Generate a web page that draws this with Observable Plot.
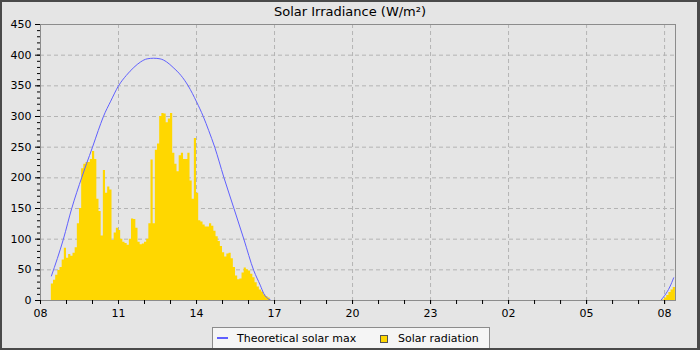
<!DOCTYPE html>
<html>
<head>
<meta charset="utf-8">
<script src="https://cdn.jsdelivr.net/npm/d3@7"></script>
<script src="https://cdn.jsdelivr.net/npm/@observablehq/plot@0.6"></script>
<style>
  body { margin: 0; background: #ffffff; }
  #wrap { position: relative; width: 700px; height: 350px; background: #e5e5e5; font-family: "DejaVu Sans", sans-serif; overflow: hidden; }
  #title { position: absolute; left: 0; top: 0; width: 700px; padding-top: 5px; height: 15px; line-height: 13px; font-size: 13px; text-align: center; color: #000; white-space: nowrap; }
  #chart { position: absolute; left: 0; top: 20px; }
  #legend { position: absolute; left: 212px; top: 327px; width: 276px; height: 20px; border: 1px solid #8c8c8c; background: #f5f5f5; font-size: 11px; color: #000; }
  #legend .lt { position: absolute; top: 5px; line-height: 11px; white-space: nowrap; }
  #legend .swl { position: absolute; left: 4px; top: 9px; width: 11px; height: 2px; background: #6060ff; }
  #legend .swb { position: absolute; left: 167px; top: 7px; width: 6px; height: 6px; border: 1px solid #555; background: #ffd700; }
  #border { position: absolute; left: 0; top: 0; right: 0; bottom: 0; border: 2px solid #4a4a4a; border-right-width: 3px; pointer-events: none; }
</style>
</head>
<body>
<div id="wrap">
  <div id="title"></div>
  <div id="chart"></div>
  <div id="legend"></div>
  <div id="border"></div>
</div>
<script>
// ---- data ----
const chartTitle = "Solar Irradiance (W/m²)";
const seriesNames = ["Theoretical solar max", "Solar radiation"];

// x axis in hours since midnight of day 1 (values > 24 are the next day)
const xDomain = [8, 32.42];
const xMajorTicks = [8, 11, 14, 17, 20, 23, 26, 29, 32];
const xTickLabels = ["08", "11", "14", "17", "20", "23", "02", "05", "08"];
const yMajorTicks = [0, 50, 100, 150, 200, 250, 300, 350, 400, 450];

// Solar radiation: 5-minute bars starting at 08:25 (day 1)
const radStartHour = 8 + 25 / 60;
const radStepHours = 5 / 60;
const radValues = [
  27, 33, 41, 49, 54, 66, 85, 69, 75, 72,
  77, 86, 125, 150, 215, 222, 225, 225, 230, 243,
  230, 165, 145, 105, 212, 175, 185, 180, 98, 110,
  118, 114, 100, 95, 93, 90, 100, 133, 132, 118,
  95, 91, 92, 95, 100, 125, 229, 125, 245, 255,
  300, 305, 304, 290, 296, 305, 240, 222, 210, 236,
  240, 230, 230, 240, 195, 165, 264, 175, 130, 128,
  123, 120, 120, 125, 121, 113, 104, 96, 88, 78,
  71, 76, 77, 68, 54, 40, 34, 35, 45, 53,
  50, 48, 43, 37, 29, 22, 17, 14, 9, 6,
  4
];
// next morning bars (start 07:55 day 2)
const radNextStartHour = 24 + 7 + 55 / 60;
const radNextValues = [1, 4, 8, 13, 17, 21];

// Theoretical solar max, day 1 (hour, W/m²)
const theoHours = [8.42, 8.88, 9.2, 9.59, 9.77, 10.0, 10.22, 10.42, 10.7, 11.0, 11.3, 11.59, 11.85, 12.1, 12.35, 12.6, 12.85, 13.1, 13.4, 13.68, 14.0, 14.26, 14.47, 14.7, 15.05, 15.44, 15.82, 16.2, 16.45, 16.59, 16.78, 16.88];
const theoValues = [40, 100, 150, 201, 223, 250, 277, 300, 325, 350, 367, 380, 389, 394, 395, 394, 389, 380, 367, 350, 324, 300, 277, 250, 201, 150, 100, 49, 25, 11, 2, 0];
// Theoretical solar max, next morning
const theoNextHours = [31.85, 32.0, 32.2, 32.35];
const theoNextValues = [0, 8, 22, 37];

// ---- build rows: step outline of the 5-minute bars ----
function barSteps(start, values, seg) {
  const rows = values.map((v, i) => ({t: start + i * radStepHours, v, seg}));
  rows.push({t: start + values.length * radStepHours, v: values[values.length - 1], seg});
  return rows;
}
const radRows = barSteps(radStartHour, radValues, 0).concat(barSteps(radNextStartHour, radNextValues, 1));
const theoRows = theoHours.map((t, i) => ({t, v: theoValues[i], seg: 0}))
  .concat(theoNextHours.map((t, i) => ({t, v: theoNextValues[i], seg: 1})));

const xMinorTicks = d3.range(8, 33, 1);
const yMinorTicks = d3.range(0, 451, 10);

const gridStyle = {stroke: "#b4b4b4", strokeOpacity: 1, strokeDasharray: "4,3", strokeWidth: 1};

const chart = Plot.plot({
  width: 700,
  height: 306,
  marginTop: 4,
  marginBottom: 26,
  marginLeft: 40,
  marginRight: 25,
  style: {background: "transparent", fontFamily: "DejaVu Sans, sans-serif", fontSize: "11px", color: "#000", overflow: "visible"},
  x: {domain: xDomain},
  y: {domain: [0, 450]},
  marks: [
    Plot.gridX(xMajorTicks, gridStyle),
    Plot.gridY(yMajorTicks, gridStyle),
    Plot.areaY(radRows, {x: "t", y: "v", z: "seg", curve: "step-after", fill: "#ffd700"}),
    Plot.line(theoRows, {x: "t", y: "v", z: "seg", stroke: "#6060ff", strokeWidth: 1, curve: "monotone-x"}),
    Plot.frame({stroke: "#8c8c8c", strokeWidth: 1}),
    Plot.axisX(xMinorTicks, {tickSize: 4, fill: "none", stroke: "#000", label: null}),
    Plot.axisX(xMajorTicks, {tickSize: 4, tickPadding: 5, stroke: "#000", fill: "#000", label: null,
      tickFormat: d => xTickLabels[xMajorTicks.indexOf(d)]}),
    Plot.axisY(yMinorTicks, {tickSize: 3, fill: "none", stroke: "#000", label: null}),
    Plot.axisY(yMajorTicks, {tickSize: 5, tickPadding: 4, stroke: "#000", fill: "#000", label: null})
  ]
});
document.getElementById("chart").appendChild(chart);
document.getElementById("title").textContent = chartTitle;

const legend = document.getElementById("legend");
legend.innerHTML =
  '<span class="swl"></span><span class="lt" style="left:24px"></span>' +
  '<span class="swb"></span><span class="lt" style="left:185px"></span>';
const lts = legend.querySelectorAll(".lt");
lts[0].textContent = seriesNames[0];
lts[1].textContent = seriesNames[1];
</script>
</body>
</html>
